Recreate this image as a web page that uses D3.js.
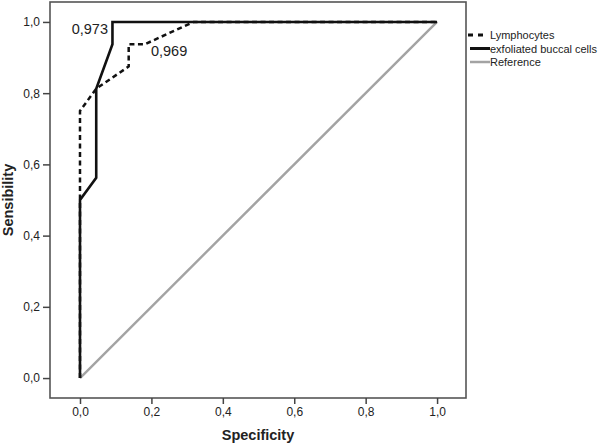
<!DOCTYPE html>
<html>
<head>
<meta charset="utf-8">
<script src="https://cdn.jsdelivr.net/npm/d3@7"></script>
<style>
  body { margin: 0; background: #fff; }
  svg { display: block; font-family: "Liberation Sans", Arial, sans-serif; }
</style>
</head>
<body>
<div id="view"></div>
<script>
// ROC curves: x = specificity axis (1 - spec as plotted), y = sensibility
const lymphoX = [0, 0, 1/22, 3/22, 3/22, 4/22, 7/22, 1];
const lymphoY = [0, 0.75, 0.8125, 0.875, 0.9375, 0.9375, 1, 1];
const buccalX = [0, 0, 1/22, 1/22, 2/22, 2/22, 1];
const buccalY = [0, 0.5, 0.5625, 0.8125, 0.9375, 1, 1];
const refX = [0, 1];
const refY = [0, 1];
const tickValues = [0, 0.2, 0.4, 0.6, 0.8, 1.0];
const seriesNames = ["Lymphocytes", "exfoliated buccal cells", "Reference"];
const aucLabels = ["0,973", "0,969"];

const zip = (xs, ys) => xs.map((v, i) => ({x: v, y: ys[i]}));

const W = 600, H = 445;
const frame = {left: 50, right: 466, top: 2, bottom: 398};

const svg = d3.select("#view")
    .append("svg")
        .attr("width", W)
        .attr("height", H);

const x = d3.scaleLinear().domain([-0.084, 1.081]).range([frame.left, frame.right]);
const y = d3.scaleLinear().domain([-0.056, 1.056]).range([frame.bottom, frame.top]);

const fmt = d3.formatLocale({decimal: ",", thousands: ".", grouping: [3], currency: ["", ""]}).format(".1f");

// frame
svg.append("rect")
    .attr("x", frame.left)
    .attr("y", frame.top)
    .attr("width", frame.right - frame.left)
    .attr("height", frame.bottom - frame.top)
    .attr("fill", "none")
    .attr("stroke", "#555")
    .attr("stroke-width", 1.6);

// X axis
const gx = svg.append("g")
    .attr("transform", `translate(0,${frame.bottom})`)
    .call(d3.axisBottom(x).tickValues(tickValues).tickFormat(fmt).tickSize(6).tickPadding(3));
// Y axis
const gy = svg.append("g")
    .attr("transform", `translate(${frame.left},0)`)
    .call(d3.axisLeft(y).tickValues(tickValues).tickFormat(fmt).tickSize(7).tickPadding(3));

[gx, gy].forEach(g => {
    g.select(".domain").remove();
    g.selectAll(".tick line").attr("stroke", "#444").attr("stroke-width", 1.5);
    g.selectAll(".tick text")
        .attr("fill", "#222")
        .style("font-family", "'Liberation Sans', Arial, sans-serif")
        .style("font-size", "12px");
});

// axis titles
svg.append("text")
    .attr("x", (frame.left + frame.right) / 2)
    .attr("y", 440)
    .attr("text-anchor", "middle")
    .attr("font-size", 14.5)
    .attr("font-weight", "bold")
    .attr("fill", "#222")
    .text("Specificity");
svg.append("text")
    .attr("transform", `translate(13,${(frame.top + frame.bottom) / 2}) rotate(-90)`)
    .attr("text-anchor", "middle")
    .attr("font-size", 14.5)
    .attr("font-weight", "bold")
    .attr("fill", "#222")
    .text("Sensibility");

const line = d3.line().x(d => x(d.x)).y(d => y(d.y));

const styles = [
    {data: zip(lymphoX, lymphoY), stroke: "#111", width: 2.5, dash: "5,3.5"},
    {data: zip(buccalX, buccalY), stroke: "#111", width: 2.6, dash: null},
    {data: zip(refX, refY), stroke: "#a3a3a3", width: 2.4, dash: null}
];

// draw reference first, then the curves
[styles[2], styles[0], styles[1]].forEach(s => {
    svg.append("path")
        .datum(s.data)
        .attr("fill", "none")
        .attr("stroke", s.stroke)
        .attr("stroke-width", s.width)
        .attr("stroke-dasharray", s.dash)
        .attr("stroke-linejoin", "miter")
        .attr("d", line);
});

// AUC annotations
svg.append("text")
    .attr("x", x(2/22) - 4.5)
    .attr("y", y(1) + 12)
    .attr("text-anchor", "end")
    .attr("font-size", 14.5)
    .attr("fill", "#222")
    .text(aucLabels[0]);
svg.append("text")
    .attr("x", x(4/22) + 6)
    .attr("y", y(0.9375) + 12)
    .attr("font-size", 14.5)
    .attr("fill", "#222")
    .text(aucLabels[1]);

// legend
const legend = svg.append("g").attr("transform", "translate(468,35)");
seriesNames.forEach((name, i) => {
    const s = styles[i];
    const row = legend.append("g").attr("transform", `translate(0,${i * 13.5})`);
    row.append("line")
        .attr("x1", i === 0 ? 0 : 2).attr("x2", i === 0 ? 17 : 22)
        .attr("stroke", s.stroke)
        .attr("stroke-width", i === 2 ? 2.5 : 3)
        .attr("stroke-dasharray", i === 0 ? "5,5" : null);
    row.append("text")
        .attr("x", 22)
        .attr("y", 4)
        .attr("font-size", 11)
        .attr("fill", "#222")
        .text(name);
});
</script>
</body>
</html>
